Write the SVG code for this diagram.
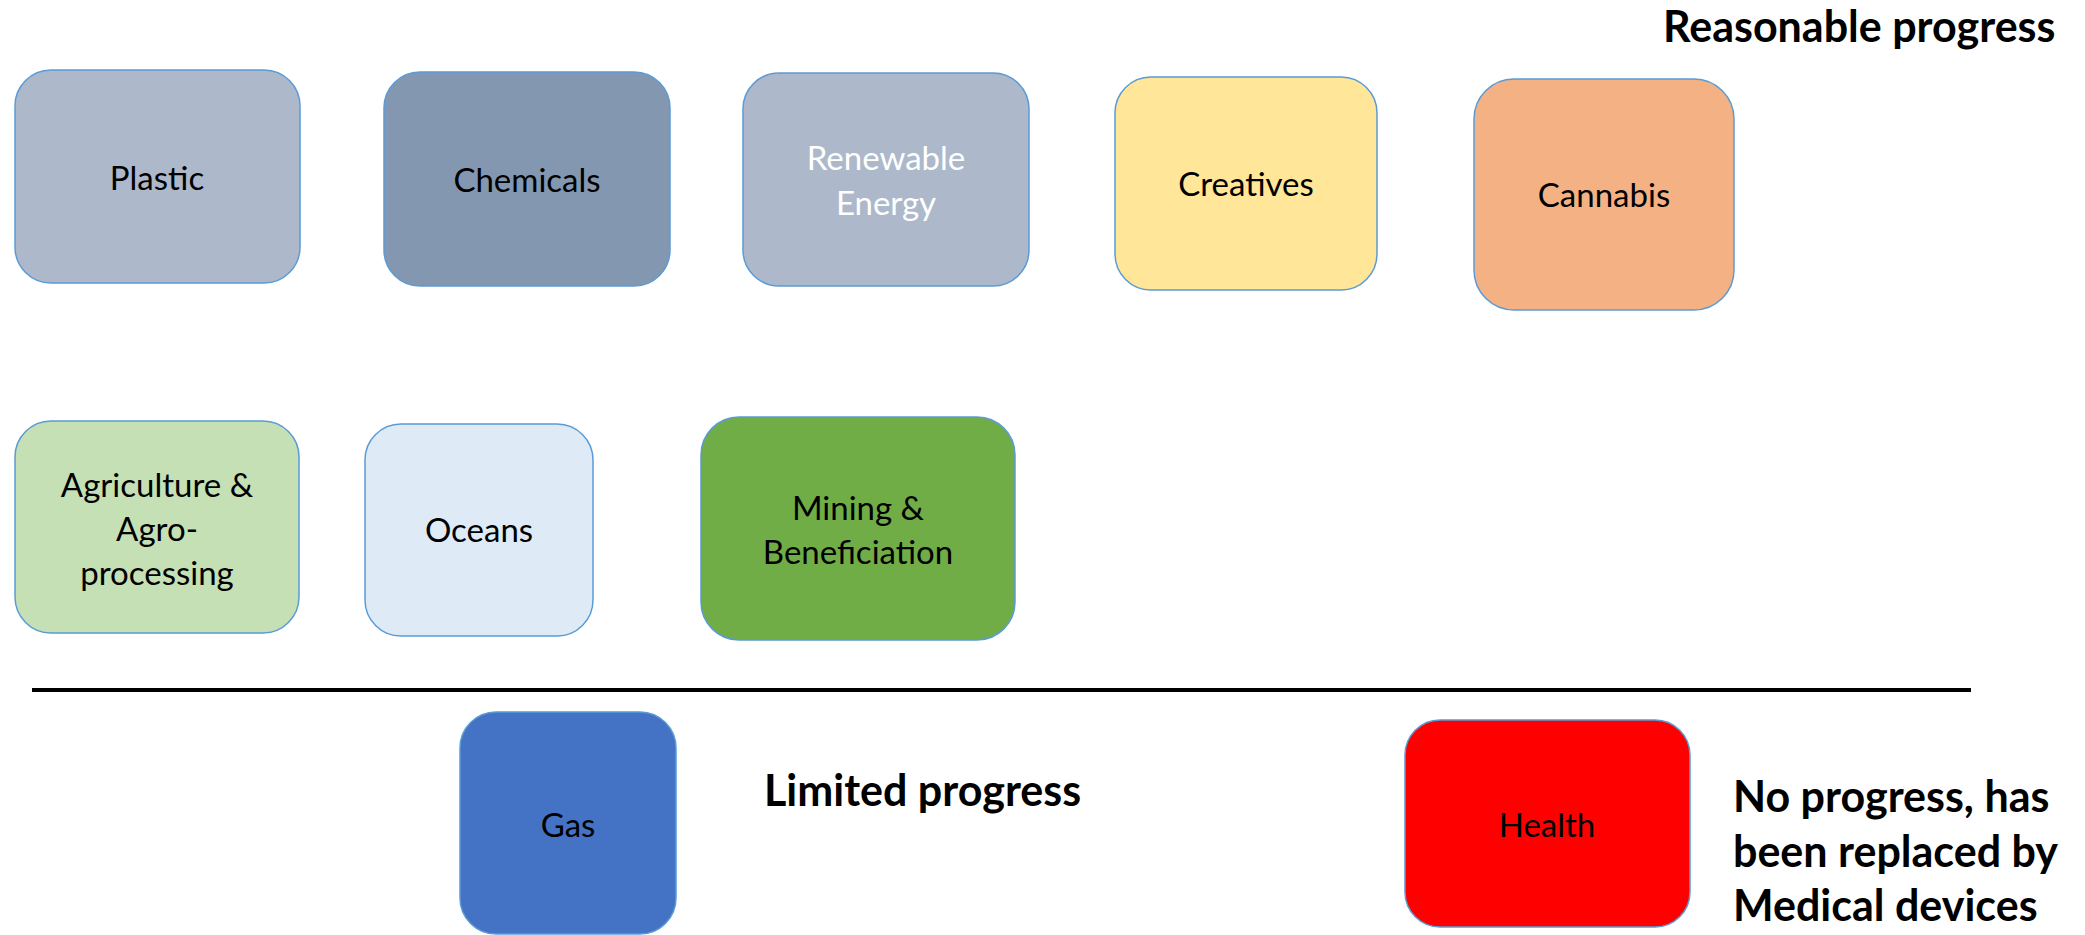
<svg xmlns="http://www.w3.org/2000/svg" width="2085" height="935" viewBox="0 0 2085 935">
  <style>
    .box { stroke: #5B9BD5; stroke-width: 1.5; }
    .lbl { font-family: Lato, "Open Sans", "Liberation Sans", sans-serif; font-size: 33px; fill: #000; text-anchor: middle; dominant-baseline: central; }
    .lbl.light { fill: #FFFFFF; }
    .note { font-family: Lato, "Open Sans", "Liberation Sans", sans-serif; font-size: 43px; font-weight: bold; fill: #000; }
  </style>
  <rect width="2085" height="935" fill="#FFFFFF"/>

  <!-- row 1 -->
  <g id="plastic">
    <rect class="box" x="15" y="70" width="285" height="213" rx="36" fill="#ADB9CA"/>
    <text class="lbl" x="157" y="177">Plastic</text>
  </g>
  <g id="chemicals">
    <rect class="box" x="384" y="72" width="286" height="214" rx="36" fill="#8497B0"/>
    <text class="lbl" x="527" y="179">Chemicals</text>
  </g>
  <g id="renewable-energy">
    <rect class="box" x="743" y="73" width="286" height="213" rx="36" fill="#ADB9CA"/>
    <text class="lbl light" x="886" y="157">Renewable</text>
    <text class="lbl light" x="886" y="202">Energy</text>
  </g>
  <g id="creatives">
    <rect class="box" x="1115" y="77" width="262" height="213" rx="36" fill="#FFE699"/>
    <text class="lbl" x="1246" y="183">Creatives</text>
  </g>
  <g id="cannabis">
    <rect class="box" x="1474" y="79" width="260" height="231" rx="40" fill="#F4B183"/>
    <text class="lbl" x="1604" y="194">Cannabis</text>
  </g>

  <!-- row 2 -->
  <g id="agriculture">
    <rect class="box" x="15" y="421" width="284" height="212" rx="36" fill="#C5E0B4"/>
    <text class="lbl" x="157" y="484">Agriculture &amp;</text>
    <text class="lbl" x="157" y="528">Agro-</text>
    <text class="lbl" x="157" y="572">processing</text>
  </g>
  <g id="oceans">
    <rect class="box" x="365" y="424" width="228" height="212" rx="36" fill="#DEEBF7"/>
    <text class="lbl" x="479" y="529">Oceans</text>
  </g>
  <g id="mining">
    <rect class="box" x="701" y="417" width="314" height="223" rx="38" fill="#70AD47"/>
    <text class="lbl" x="858" y="507">Mining &amp;</text>
    <text class="lbl" x="858" y="551">Beneficiation</text>
  </g>

  <!-- divider -->
  <g id="connectors">
    <line x1="32" y1="690" x2="1971" y2="690" stroke="#000000" stroke-width="4"/>
  </g>

  <!-- row 3 -->
  <g id="gas">
    <rect class="box" x="460" y="712" width="216" height="222" rx="36" fill="#4472C4"/>
    <text class="lbl" x="568" y="824">Gas</text>
  </g>
  <g id="health">
    <rect class="box" x="1405" y="720" width="285" height="207" rx="35" fill="#FF0000"/>
    <text class="lbl" x="1547" y="824">Health</text>
  </g>

  <!-- progress notes -->
  <text class="note" x="1663" y="42">Reasonable progress</text>
  <text class="note" x="764" y="806">Limited progress</text>
  <text class="note" x="1733" y="812">No progress, has</text>
  <text class="note" x="1733" y="867">been replaced by</text>
  <text class="note" x="1733" y="921">Medical devices</text>
</svg>
